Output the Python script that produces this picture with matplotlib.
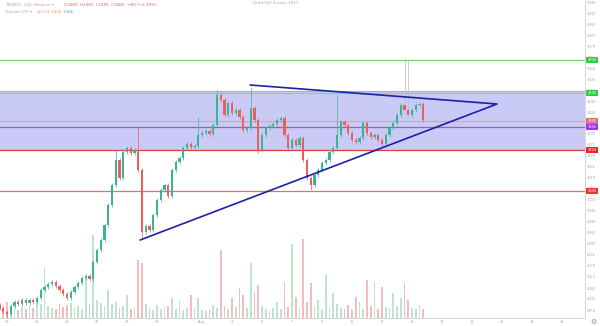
import datetime as dt
import matplotlib
matplotlib.use("Agg")
import matplotlib.pyplot as plt
import matplotlib.dates as mdates

# 6h candles, prices in satoshi
START = dt.datetime(2017, 7, 18, 12)
STEP  = dt.timedelta(hours=6)

FIRST_OPEN = 2475
CLOSES = [
    2460, 2440, 2430, 2470, 2490, 2480, 2500, 2485, 2500, 2490,
    2510, 2550, 2565, 2580, 2590, 2570, 2550, 2530, 2510, 2540,
    2565, 2585, 2610, 2620, 2605, 2690, 2750, 2800, 2875, 2975,
    3075, 3200, 3110, 3240, 3260, 3235, 3250, 3150, 2840, 2870,
    2850, 2925, 3000, 3050, 3075, 3020, 3150, 3190, 3210, 3260,
    3280, 3265, 3270, 3325, 3335, 3345, 3330, 3375, 3525, 3500,
    3425, 3485, 3435, 3450, 3415, 3350, 3360, 3460, 3400, 3250,
    3325, 3360, 3370, 3380, 3400, 3410, 3325, 3260, 3300, 3275,
    3310, 3200, 3110, 3075, 3125, 3150, 3185, 3200, 3240, 3260,
    3325, 3390, 3375, 3335, 3300, 3290, 3310, 3385, 3335, 3315,
    3325, 3300, 3280, 3325, 3360, 3385, 3425, 3475, 3450, 3425,
    3450, 3475, 3480, 3400,
]
VOLUMES = [
    12, 9, 16, 10, 14, 8, 11, 9, 13, 10,
    18, 14, 51, 12, 10, 9, 14, 11, 13, 15,
    10, 12, 9, 40, 14, 83, 18, 15, 12, 28,
    14, 16, 10, 12, 23, 9, 11, 58, 55, 14,
    10, 8, 13, 9, 11, 12, 20, 9, 18, 8,
    10, 23, 9, 20, 8, 7, 9, 13, 10, 68,
    12, 9, 20, 11, 30, 23, 10, 55, 26, 33,
    12, 9, 8, 10, 16, 9, 36, 11, 74, 21,
    10, 79, 16, 35, 12, 18, 9, 43, 11, 25,
    14, 10, 9, 13, 8, 21, 16, 9, 38, 12,
    36, 9, 31, 11, 10, 25, 12, 20, 35, 18,
    10, 9, 13, 9,
]
HIGH_SPIKES = {31: 3250, 37: 3365, 53: 3415, 58: 3550, 67: 3565,
               90: 3525, 108: 3710, 109: 3700}
LOW_SPIKES  = {2: 2410, 38: 2810, 69: 3235, 83: 3050}

BOX_LOW, BOX_HIGH = 3250, 3545
LEVELS       = [3700, 3535, 3395, 3365, 3250, 3045]
LEVEL_COLORS = ["#6fd66f", "#8fd08f", "#e8a0a0", "#9b59d0", "#d84040", "#e07070"]
TAG_COLORS   = ["#2ecc40", "#2ecc40", "#e07070", "#9933ee", "#ee2222", "#ee3333"]

TRI_TIMES  = [dt.datetime(2017, 8, 4, 5), dt.datetime(2017, 8, 20, 16),
              dt.datetime(2017, 7, 27, 21)]
TRI_PRICES = [3575, 3480, 2800]

XTICK_DATES  = [dt.datetime(2017, 7, d) for d in (19, 21, 23, 25, 27, 29)] + \
               [dt.datetime(2017, 8, d) for d in (1, 3, 5, 7, 9, 11, 13, 15, 17, 19, 21, 23, 25)]
XTICK_LABELS = ["19", "21", "23", "25", "27", "29", "Aug", "3", "5", "7", "9",
                "11", "13", "15", "17", "19", "21", "23", "25"]

UP, DOWN = "#3bb39a", "#e8605c"
UP_VOL, DOWN_VOL = "#bfe3d3", "#f4bcbc"
MUTED = "#a8a8a8"

times = [mdates.date2num(START + STEP * i) for i in range(len(CLOSES))]
opens = [FIRST_OPEN] + CLOSES[:-1]

fig = plt.figure(figsize=(6, 3.26), dpi=100)
ax  = fig.add_axes([0, 8 / 326, 585 / 600, 318 / 326])
axv = ax.twinx()
ax.set_zorder(2)
ax.patch.set_visible(False)
axv.set_zorder(1)

# volume overlay
vol_colors = [UP_VOL if c >= o else DOWN_VOL for o, c in zip(opens, CLOSES)]
axv.bar(times, VOLUMES, width=0.12, color=vol_colors, linewidth=0)
axv.set_ylim(0, max(VOLUMES) * 3.85)
axv.set_yticks([])
for s in axv.spines.values():
    s.set_visible(False)

# support / resistance zone
ax.axhspan(BOX_LOW, BOX_HIGH, color="#cacaf7", zorder=0, linewidth=0)
ax.axhline(BOX_HIGH, color="#a8a8ee", lw=0.8, zorder=1)
for lvl, col in zip(LEVELS, LEVEL_COLORS):
    ax.axhline(lvl, color=col, lw=0.9, zorder=1)

# candles
for i, (t, o, c) in enumerate(zip(times, opens, CLOSES)):
    col = UP if c >= o else DOWN
    hi = HIGH_SPIKES.get(i, max(o, c) + 8)
    lo = LOW_SPIKES.get(i, min(o, c) - 8)
    wick_col = "#bbbbbb" if i in (108, 109) else col
    ax.vlines(t, lo, hi, color=wick_col, lw=0.5, zorder=3)
    ax.bar(t, max(abs(c - o), 3), width=0.16, bottom=min(o, c),
           color=col, linewidth=0, zorder=4)

# triangle
ax.plot([mdates.date2num(t) for t in TRI_TIMES], TRI_PRICES,
        color="#1f1fa8", lw=1.2, zorder=5, solid_capstyle="round")

x0 = mdates.date2num(dt.datetime(2017, 7, 19)) - 7 / 15
x1 = mdates.date2num(dt.datetime(2017, 7, 19)) + 578 / 15
ax.set_xlim(x0, x1)
axv.set_xlim(x0, x1)
ax.set_ylim(2410, 4000)

ax.set_xticks([mdates.date2num(d) for d in XTICK_DATES])
ax.set_xticklabels(XTICK_LABELS)
ax.yaxis.tick_right()
yticks = list(range(2450, 4000, 55))
ax.set_yticks(yticks)
ax.set_yticklabels([str(v) for v in yticks])
ax.tick_params(axis="both", length=0, colors=MUTED, labelsize=2.6, pad=1.5)

for name, s in ax.spines.items():
    if name in ("right", "bottom"):
        s.set_color("#d0d0d0")
        s.set_linewidth(0.6)
    else:
        s.set_visible(False)

# price tags on the right axis
for lvl, col in zip(LEVELS, TAG_COLORS):
    ax.text(1.004, lvl, str(lvl), transform=ax.get_yaxis_transform(),
            ha="left", va="center", fontsize=2.6, color="white", clip_on=False,
            zorder=10, bbox=dict(boxstyle="square,pad=0.35", fc=col, ec="none"))

# header
fig.text(5 / 600, 1 - 5 / 326, "TRXBTC, 240, Binance \u25be", fontsize=3.0,
         color=MUTED, va="center")
fig.text(64 / 600, 1 - 5 / 326, "O3480  H3485  L3395  C3400  \u221280 (\u22122.30%)",
         fontsize=3.0, color="#e06060", va="center")
fig.text(5 / 600, 1 - 12 / 326, "Volume (20) \u25be", fontsize=2.8, color=MUTED,
         va="center")
fig.text(37 / 600, 1 - 12 / 326, "22.532", fontsize=2.8, color="#e89090", va="center")
fig.text(51 / 600, 1 - 12 / 326, "1.42K", fontsize=2.8, color="#e0a040", va="center")
fig.text(63 / 600, 1 - 12 / 326, "1.46K", fontsize=2.8, color="#4aa0d0", va="center")
fig.text(276 / 600, 1 - 3 / 326, "Draft Full Screen 2017", fontsize=3.0,
         color=MUTED, ha="center", va="center")
fig.text(593 / 600, 4 / 326, "\u2699", fontsize=5, color="#888888",
         ha="center", va="center")

fig.savefig("out.png", dpi=100)
